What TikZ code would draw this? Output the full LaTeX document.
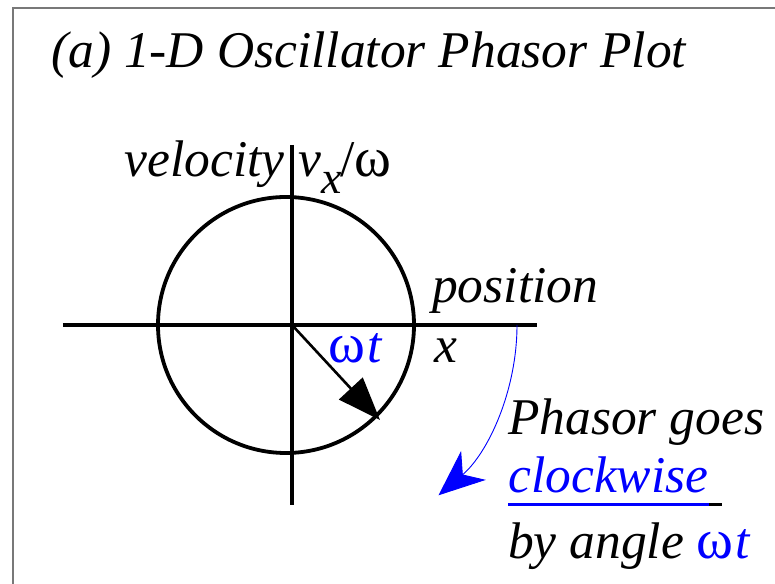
\documentclass[tikz,border=0pt]{standalone}
\usepackage{fontspec}
\setmainfont{Liberation Serif}
\usetikzlibrary{arrows.meta}
\definecolor{myblue}{RGB}{0,0,255}
\definecolor{framegray}{RGB}{120,120,120}
\begin{document}
\begin{tikzpicture}[x=1bp,y=1bp,
  txt/.style={inner sep=0pt, anchor=base west, font=\fontsize{51.5bp}{60bp}\selectfont\itshape},
  axis/.style={line width=3.4bp, black}]
\useasboundingbox (-292,325) rectangle (483,-259);
% frame (cropped)
\draw[framegray, line width=2bp] (-279,-259) -- (-279,317) -- (483,317);
% title
\node[txt] (title) at (-241,257) {(a) 1-D Oscillator Phasor Plot};
% axes and circle
\coordinate (O) at (0,0);
\coordinate (C) at (-6,0);
\coordinate (xl) at (-229,0);
\coordinate (xr) at (245,0);
\coordinate (yt) at (0,180);
\coordinate (yb) at (0,-180);
\draw[axis] (xl) -- (xr);
\draw[axis] (yt) -- (yb);
\draw[line width=3.8bp] (C) circle[radius=128];
% phasor
\coordinate (P) at (88,-95);
\draw[line width=2.6bp, -{Triangle[length=43bp,width=32bp]}] (O) -- (P);
% labels
\node[txt, anchor=base east] (vel) at (-7,148) {velocity};
\node[txt] (vx) at (6,148) {v\raisebox{-17bp}{\fontsize{46bp}{50bp}\selectfont x}\kern-1bp{\upshape /\fontsize{56bp}{60bp}\selectfont ω}};
\node[txt] (pos) at (140,22) {position};
\node[txt] (xlab) at (142,-38) {x};
\node[txt, text=myblue] (wt) at (36,-38) {{\upshape\fontsize{56bp}{60bp}\selectfont ω}\kern2bp t};
% clockwise arrow
\coordinate (cs) at (225,0);
\draw[myblue, line width=0.9bp, -{Stealth[length=46bp,width=38bp,inset=14bp]}] (cs) arc[start angle=0, end angle=-49.5, radius=224];
% explanatory text
\node[txt] (ph) at (216,-110) {Phasor goes};
\node[txt, text=myblue] (cw) at (216,-168) {clockwise};
\coordinate (u1) at (216,-180);
\coordinate (u2) at (417,-180);
\coordinate (u3) at (430,-180);
\draw[myblue, line width=3bp] (u1) -- (u2);
\draw[black, line width=3bp] (u2) -- (u3);
\node[txt] (ang) at (216,-233) {by angle \textcolor{myblue}{{\upshape\fontsize{56bp}{60bp}\selectfont ω}\kern2bp t}};
\end{tikzpicture}
\end{document}
